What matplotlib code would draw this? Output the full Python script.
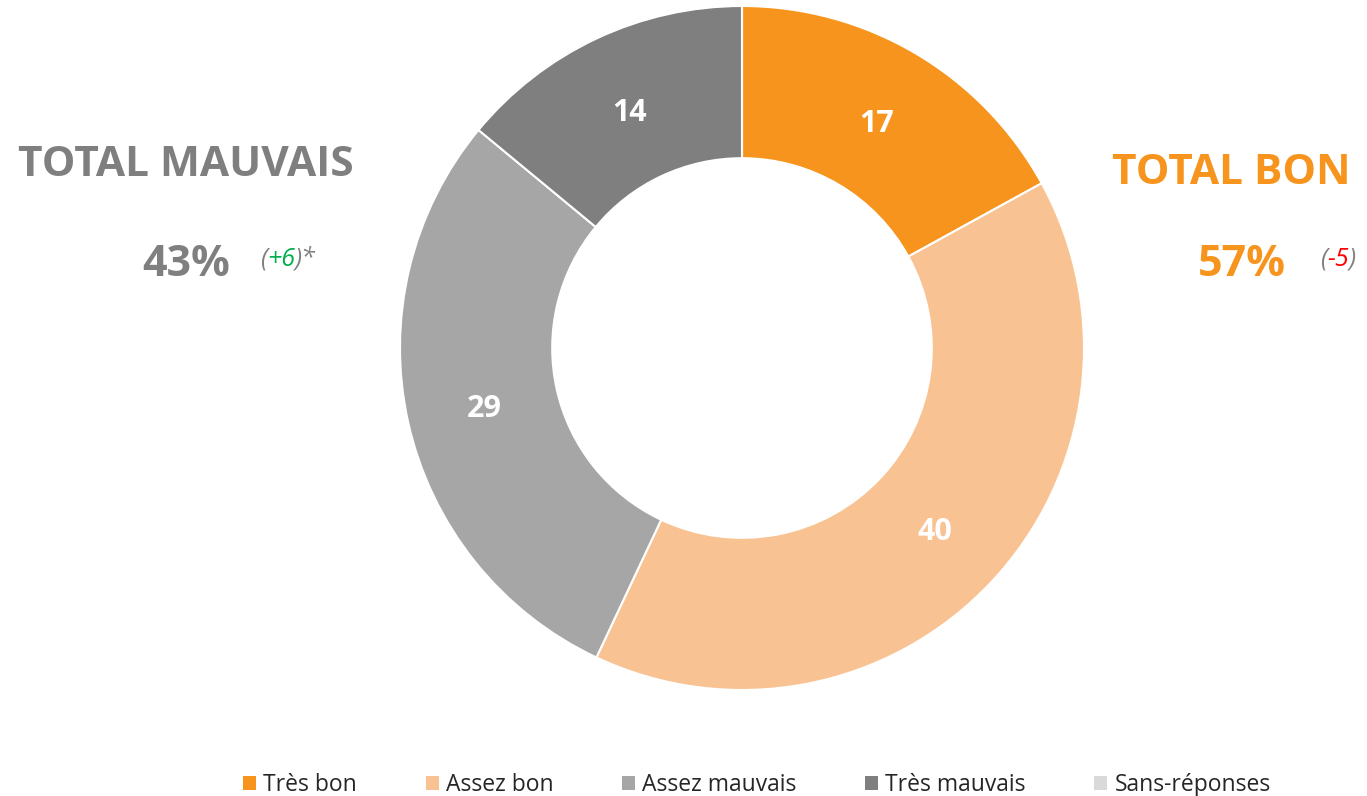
import numpy as np
import matplotlib.pyplot as plt
from matplotlib.patches import Patch

plt.rcParams['font.family'] = ['Open Sans', 'DejaVu Sans']

categories = ['Très bon', 'Assez bon', 'Assez mauvais', 'Très mauvais', 'Sans-réponses']
values = [17, 40, 29, 14, 0]
colors = ['#F7941D', '#F9C293', '#A6A6A6', '#7F7F7F', '#D9D9D9']

total_bad = '43%'
total_good = '57%'
delta_bad = '+6'
delta_good = '-5'

GREY = '#7F7F7F'
ORANGE = '#F7941D'

W, H = 1367, 796
fig = plt.figure(figsize=(W / 100, H / 100), dpi=100)


def px(x, y):
	return x / W, 1 - y / H


# donut: center (742, 348), outer radius 342 px
cx, cy, r = 742, 348, 342
ax = fig.add_axes([(cx - r) / W, (H - cy - r) / H, 2 * r / W, 2 * r / H])
wedges, _ = ax.pie(values, colors=colors, startangle=90, counterclock=False, radius=1,
				   wedgeprops=dict(width=0.445, edgecolor='white', linewidth=1.5))
ax.set_xlim(-1, 1)
ax.set_ylim(-1, 1)
ax.set_aspect('equal')
ax.axis('off')

ang = 90.0
for v in values:
	if v == 0:
		continue
	mid = np.deg2rad(ang - v / 100 * 360 / 2)
	ax.text(0.772 * np.cos(mid), 0.772 * np.sin(mid), str(v), ha='center', va='center_baseline',
			color='white', fontsize=22, fontweight='bold')
	ang -= v / 100 * 360

# side totals
fig.text(*px(186, 161), 'TOTAL MAUVAIS', ha='center', va='center_baseline', color=GREY,
		 fontsize=30.5, fontweight='bold')
fig.text(*px(186, 259), total_bad, ha='center', va='center_baseline', color=GREY,
		 fontsize=31, fontweight='bold')

fig.text(*px(1231, 169), 'TOTAL BON', ha='center', va='center_baseline', color=ORANGE,
		 fontsize=30.5, fontweight='bold')
fig.text(*px(1242, 259), total_good, ha='center', va='center_baseline', color=ORANGE,
		 fontsize=31, fontweight='bold')


def chain(x, y, parts):
	# pieces of one line in different colours, each starting where the last ends
	t = fig.text(*px(x, y), parts[0][0], ha='left', va='baseline', color=parts[0][1],
				 fontsize=18, style='italic')
	for s, c in parts[1:]:
		t = ax.annotate(s, xy=(1, 0), xycoords=t, ha='left', va='bottom', color=c, fontsize=18,
						style='italic', annotation_clip=False)
	return t


chain(260, 266, [('(', GREY), (delta_bad, '#00B050'), (')*', GREY)])
chain(1320, 266, [('(', GREY), (delta_good, '#FF0000'), (')', GREY)])

handles = [Patch(facecolor=c, edgecolor='none') for c in colors]
fig.legend(handles, categories, loc='center', bbox_to_anchor=px(757, 785), ncol=5, frameon=False,
		   fontsize=16.5, handlelength=0.57, handleheight=0.57, handletextpad=0.3, columnspacing=3.0,
		   labelcolor='#262626')

fig.savefig('out.png', dpi=100, facecolor='white')
